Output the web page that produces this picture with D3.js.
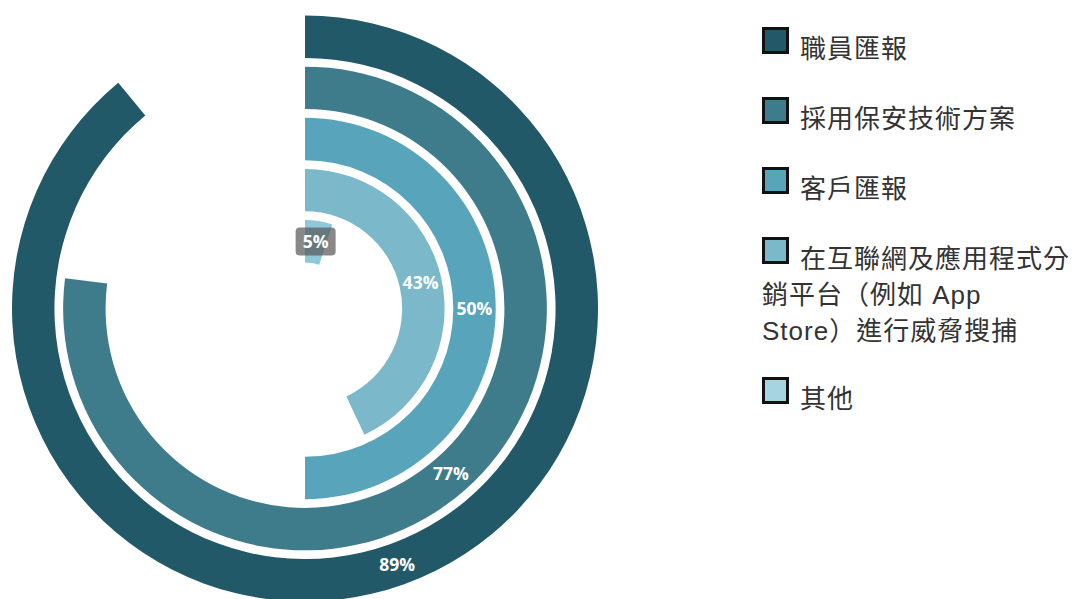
<!DOCTYPE html>
<html>
<head>
<meta charset="utf-8">
<script src="https://cdn.jsdelivr.net/npm/d3@7"></script>
<style>
  body { margin: 0; background: #fff; }
</style>
</head>
<body>
<script>
// 数据
var categories = ["職員匯報", "採用保安技術方案", "客戶匯報", "在互聯網及應用程式分銷平台（例如 App Store）進行威脅搜捕", "其他"];
var values = [89, 77, 50, 43, 5];
// 图例分行
var legendLines = [
  ["職員匯報"],
  ["採用保安技術方案"],
  ["客戶匯報"],
  ["在互聯網及應用程式分", "銷平台（例如 App", "Store）進行威脅搜捕"],
  ["其他"]
];
var colors = ["#225968", "#3e7c8b", "#58a5bb", "#7bb8c9", "#8ec9d9"];
var legendColors = ["#225968", "#3e7c8b", "#58a5bb", "#7bb8c9", "#a6d4e0"];

var w = 1076, h = 599;
var cx = 305, cy = 308.5;

var svg = d3.select("body")
  .append("svg")
  .attr("width", w)
  .attr("height", h);

var g = svg.append("g").attr("transform", "translate(" + cx + "," + cy + ")");

// 半径 (由外到内)
var rScale = d3.scaleBand()
  .domain(categories)
  .range([293, 46])
  .paddingInner(0.17);

var aScale = d3.scaleLinear()
  .domain([0, 100])
  .range([0, 2 * Math.PI]);

var arc = d3.arc()
  .innerRadius(function(d) { return rScale(d.cat); })
  .outerRadius(function(d) { return rScale(d.cat) + rScale.bandwidth(); })
  .startAngle(0)
  .endAngle(function(d) { return aScale(d.v); });

var rows = categories.map(function(c, i) { return { cat: c, v: values[i], i: i }; });

g.selectAll("path.bar")
  .data(rows)
  .enter()
  .append("path")
  .attr("class", "bar")
  .attr("d", arc)
  .attr("fill", function(d) { return colors[d.i]; });

// 数值标签, 在弧的中点
var labels = g.selectAll("g.lbl")
  .data(rows)
  .enter()
  .append("g")
  .attr("class", "lbl")
  .attr("transform", function(d) {
    var a = aScale(d.v) / 2;
    var r = rScale(d.cat) + rScale.bandwidth() / 2;
    return "translate(" + (Math.sin(a) * r) + "," + (-Math.cos(a) * r) + ")";
  });

labels.append("text")
  .text(function(d) { return d.v + "%"; })
  .attr("text-anchor", "middle")
  .attr("dy", "0.36em")
  .attr("font-family", "'Open Sans', sans-serif")
  .attr("font-weight", 700)
  .attr("font-size", "17.5px")
  .attr("fill", "#fff");

// 小值的标签加灰色背景
labels.filter(function(d) { return d.v < 10; })
  .each(function() {
    var t = d3.select(this).select("text");
    var bb = t.node().getBBox();
    d3.select(this).insert("rect", "text")
      .attr("x", bb.x - 7)
      .attr("y", bb.y - 2)
      .attr("width", bb.width + 14)
      .attr("height", bb.height + 4)
      .attr("rx", 4)
      .attr("fill", "#555")
      .attr("fill-opacity", 0.7);
  });

// 图例
var itemTop = [27, 97, 167, 237, 377];
var lineH = 36;
var legend = svg.selectAll("g.legend")
  .data(rows)
  .enter()
  .append("g")
  .attr("class", "legend");

legend.append("rect")
  .attr("x", 763.5)
  .attr("y", function(d) { return itemTop[d.i] + 1.5; })
  .attr("width", 24)
  .attr("height", 24)
  .attr("fill", function(d) { return legendColors[d.i]; })
  .attr("stroke", "#111")
  .attr("stroke-width", 3);

legend.append("text")
  .attr("font-family", "'Liberation Sans', 'Noto Sans CJK TC', sans-serif")
  .attr("font-size", "26px")
  .attr("letter-spacing", "1px")
  .attr("fill", "#333")
  .selectAll("tspan")
  .data(function(d) { return legendLines[d.i].map(function(s, k) { return { s: s, k: k, top: itemTop[d.i] }; }); })
  .enter()
  .append("tspan")
  .attr("x", function(d) { return d.k === 0 ? 800 : 762; })
  .attr("y", function(d) { return d.top + 31 + d.k * lineH; })
  .text(function(d) { return d.s; });
</script>
</body>
</html>
